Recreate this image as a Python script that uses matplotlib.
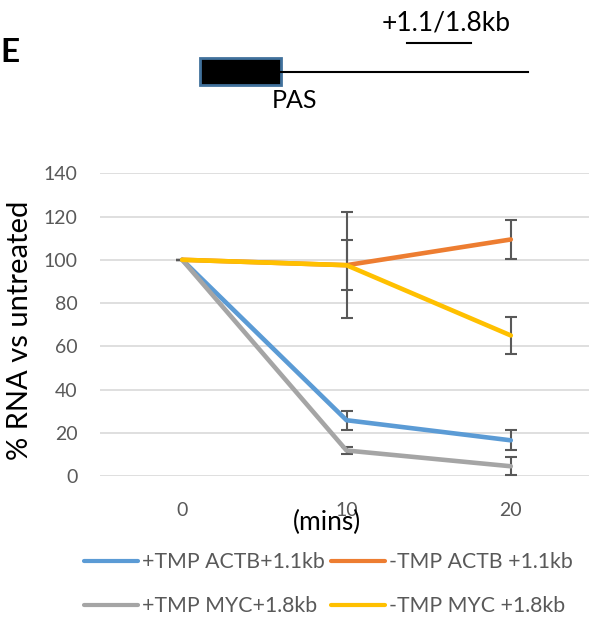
import matplotlib.pyplot as plt
from matplotlib.patches import Rectangle
from matplotlib.lines import Line2D

plt.rcParams['font.family'] = ['Lato', 'DejaVu Sans']

# data
times = ['0', '10', '20']
series_names = ['+TMP ACTB+1.1kb', '-TMP ACTB +1.1kb', '+TMP MYC+1.8kb', '-TMP MYC +1.8kb']
actb_tmp = [100, 25.8, 16.5]
actb_ctrl = [100, 97.5, 109.4]
myc_tmp = [100, 11.8, 4.5]
myc_ctrl = [100, 97.5, 65.0]
actb_tmp_err = [0, 4.3, 4.6]
actb_ctrl_err = [0, 11.6, 9.1]
myc_tmp_err = [0, 1.5, 4.2]
myc_ctrl_err = [0, 24.6, 8.6]
colors = ['#5B9BD5', '#ED7D31', '#A5A5A5', '#FFC000']

W, H = 589, 617
fig = plt.figure(figsize=(W / 100, H / 100), dpi=100)

def fx(px):
    return px / W

def fy(py):
    return 1 - py / H

# gene diagram on top
fig.text(fx(0), fy(53), 'E', fontsize=24, fontweight='bold', va='center', ha='left')
fig.patches.append(Rectangle((fx(200), fy(85)), fx(81), 27 / H, facecolor='black',
                             edgecolor='#41719C', lw=2, transform=fig.transFigure))
fig.lines.append(Line2D([fx(281), fx(528)], [fy(72), fy(72)], color='black', lw=1.5,
                        transform=fig.transFigure))
fig.lines.append(Line2D([fx(407), fx(471)], [fy(43), fy(43)], color='black', lw=1.5,
                        transform=fig.transFigure))
fig.text(fx(295), fy(100), 'PAS', fontsize=18, ha='center', va='center')
fig.text(fx(446), fy(23), '+1.1/1.8kb', fontsize=19, ha='center', va='center')

# chart
ax = fig.add_axes([fx(100), fy(476), fx(493), (476 - 173.3) / H])
x = range(len(times))
all_vals = [actb_tmp, actb_ctrl, myc_tmp, myc_ctrl]
all_errs = [actb_tmp_err, actb_ctrl_err, myc_tmp_err, myc_ctrl_err]
handles = []
for vals, errs in zip(all_vals, all_errs):
    ax.errorbar(x, vals, yerr=errs, fmt='none', ecolor='#595959', elinewidth=1.5,
                capsize=4.5, capthick=1.5, zorder=2)
for vals, c, name in zip(all_vals, colors, series_names):
    h, = ax.plot(x, vals, color=c, lw=3.3, solid_capstyle='round', zorder=3, label=name)
    handles.append(h)

ax.set_xlim(-0.5, 2.5)
ax.set_ylim(0, 140)
ax.set_yticks(range(0, 141, 20))
ax.set_xticks(list(x))
ax.set_xticklabels(times)
ax.grid(axis='y', color='#D9D9D9', lw=1.2)
ax.set_axisbelow(True)
for s in ax.spines.values():
    s.set_visible(False)
ax.tick_params(length=0, labelsize=14, colors='#595959')
ax.tick_params(axis='y', pad=16)
ax.tick_params(axis='x', pad=19)

fig.text(fx(20), fy(330), '% RNA vs untreated', rotation=90, fontsize=21,
         ha='center', va='center')
fig.text(fx(327), fy(522), '(mins)', fontsize=19, ha='center', va='center')

# legend row by row: blue, orange / gray, yellow
leg = fig.legend(handles=[handles[0], handles[2], handles[1], handles[3]],
                 loc='upper left', bbox_to_anchor=(fx(84), fy(552)), ncol=2,
                 frameon=False, fontsize=15.3, handlelength=2.55, handletextpad=0.2,
                 columnspacing=0.25, labelspacing=1.15, borderpad=0,
                 borderaxespad=0, labelcolor='#595959')
for line in leg.get_lines():
    line.set_linewidth(3)

fig.savefig('out.png', dpi=100)
